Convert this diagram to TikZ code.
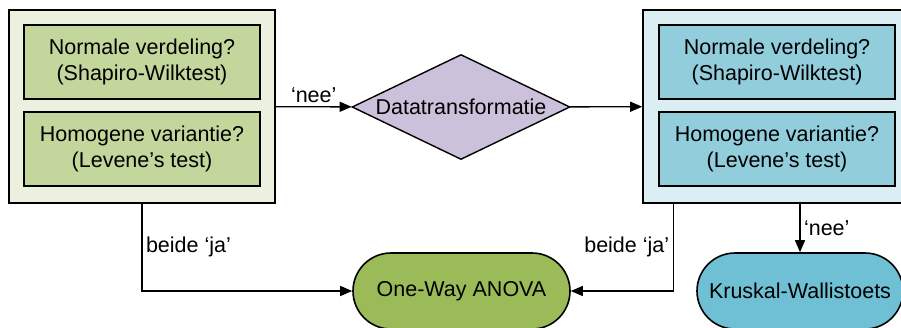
\documentclass[tikz,border=0pt]{standalone}
\usepackage{fontspec}
\setmainfont{Liberation Sans}
\usepackage{tikz}
\usetikzlibrary{arrows.meta, positioning, shapes.geometric, calc}
\definecolor{GroenLicht}{HTML}{EBF1DE}
\definecolor{GroenMidden}{HTML}{C3D69B}
\definecolor{GroenDonker}{HTML}{9BBB59}
\definecolor{BlauwLicht}{HTML}{DAEEF3}
\definecolor{BlauwMidden}{HTML}{92CDDC}
\definecolor{BlauwDonker}{HTML}{6FC0D5}
\definecolor{PaarsLicht}{HTML}{CCC1DA}

\begin{document}
\begin{tikzpicture}[
    x=1pt, y=-1pt,
    every node/.style={font=\fontsize{21.5}{26}\selectfont},
    blok/.style={
      draw=black, line width=1.6pt,
      minimum height=193pt, inner sep=0pt
    },
    vraag/.style={
      draw=black, line width=1.6pt,
      minimum width=236pt, minimum height=74pt,
      align=center, inner sep=0pt
    },
    eind/.style={
      draw=black, line width=1.6pt, rounded corners=38pt,
      minimum height=76pt, inner sep=0pt
    },
    pijl/.style={
      line width=1.4pt, -{Triangle[length=12pt, width=10pt]}
    }
  ]
    \useasboundingbox (0,0) rectangle (901,327);
    \clip (0,0) rectangle (901,327);

    % linker blok
    \node[blok, fill=GroenLicht, minimum width=266pt] (links) at (142,106.5) {};
    \node[vraag, fill=GroenMidden] (normL) at (142,62) {Normale verdeling?\\(Shapiro-Wilktest)};
    \node[vraag, fill=GroenMidden] (homL) at (142,149) {Homogene variantie?\\(Levene’s test)};

    % rechter blok
    \node[blok, fill=BlauwLicht, minimum width=268pt] (rechts) at (777,106.5) {};
    \node[vraag, fill=BlauwMidden] (normR) at (777,62) {Normale verdeling?\\(Shapiro-Wilktest)};
    \node[vraag, fill=BlauwMidden] (homR) at (777,149) {Homogene variantie?\\(Levene’s test)};

    \node[diamond, draw=black, line width=1.4pt, fill=PaarsLicht, inner sep=0pt,
      minimum width=218pt, minimum height=105pt] (trans) at (461,107)
      {\makebox[0pt]{Datatransformatie}};

    \node[eind, fill=GroenDonker, minimum width=217pt] (anova) at (461.5,291) {One-Way ANOVA};
    \node[eind, fill=BlauwDonker, minimum width=206pt] (kruskal) at (800,291) {Kruskal-Wallistoets};

    % verbindingen
    \draw[pijl] (links) -- node[above] {‘nee’} (trans);
    \draw[pijl] (trans) -- (rechts);
    \draw[pijl] (links.south) |- node[right, pos=0.25] {beide ‘ja’} (anova.west);
    \coordinate (vertrek) at ($(rechts.south west)+(31,0)$);
    \draw[pijl] (vertrek) |- node[left, pos=0.25] {beide ‘ja’} (anova.east);
    \draw[pijl] (rechts.south -| kruskal.north) -- node[right] {‘nee’} (kruskal.north);
\end{tikzpicture}
\end{document}
